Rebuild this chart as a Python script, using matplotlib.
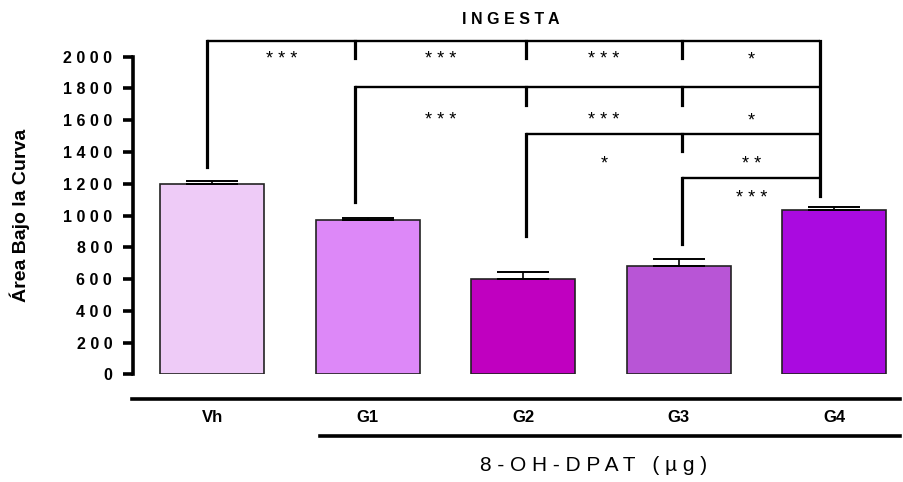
import matplotlib
matplotlib.use("Agg")
import matplotlib.pyplot as plt
import numpy as np

# data
groups = ["Vh", "G1", "G2", "G3", "G4"]
means = [1196, 972, 598, 679, 1035]
sems = [21, 13, 48, 49, 19]
colors = ["#EECBF7", "#DD88F8", "#C000C0", "#B855D6", "#AA0AE0"]
yticks = list(range(0, 2001, 200))

# significance brackets: (from group, to group, level, stars per gap)
vert_offset = [-0.03, -0.08, 0.02, 0.02, -0.09]
brackets = [
    (0, 4, 2100, ["* * *", "* * *", "* * *", "*"]),
    (1, 4, 1808, ["* * *", "* * *", "*"]),
    (2, 4, 1514, ["*", "* *"]),
    (3, 4, 1239, ["* * *"]),
]
bracket_bottom = [1308, 1084, 871, 821, 1124]
star_drop = [120, 210, 190, 130]

plt.rcParams["font.family"] = ["Liberation Sans", "DejaVu Sans"]

fig = plt.figure(figsize=(9.04, 4.82), dpi=100)
px_per_unit = 0.1588
ax = fig.add_axes([133 / 904, 107.7 / 482, (904 - 133) / 904, 2300 * px_per_unit / 482])
ax.set_xlim(-0.508, 4.447)
ax.set_ylim(0, 2300)

x = np.arange(len(groups))
ax.bar(x, means, width=0.668, color=colors, edgecolor="#222222", linewidth=1.2, zorder=2)
ax.errorbar(x, means, yerr=[np.zeros(len(sems)), sems], fmt="none", ecolor="black",
            elinewidth=1.2, capsize=18.5, capthick=1.4, zorder=3)

for s in ["top", "right", "bottom"]:
    ax.spines[s].set_visible(False)
ax.spines["left"].set_linewidth(2.6)
ax.spines["left"].set_bounds(0, 2000)
ax.set_xticks([])
ax.set_yticks(yticks)
ax.set_yticklabels([" ".join(str(v)) for v in yticks], fontweight="bold", fontsize=11.5)
ax.tick_params(axis="y", length=7.5, width=2.6, pad=7.5)

# brackets
bx = x + np.array(vert_offset)
for lvl, (g0, g1, yl, stars) in enumerate(brackets):
    ax.plot([bx[g0], bx[g1]], [yl, yl], color="black", lw=1.7, solid_capstyle="butt", clip_on=False)
    ax.plot([bx[g0], bx[g0]], [yl, bracket_bottom[g0]], color="black", lw=2.3, clip_on=False)
    for g in range(g0 + 1, g1):
        ax.plot([bx[g], bx[g]], [yl, yl - 110], color="black", lw=2.3, clip_on=False)
    for k, st in enumerate(stars):
        xm = (bx[g0 + k] + bx[g0 + k + 1]) / 2
        ax.text(xm, yl - star_drop[lvl], st, ha="center", va="center", fontsize=13)
ax.plot([bx[4], bx[4]], [brackets[0][2], bracket_bottom[4]], color="black", lw=2.3, clip_on=False)

# group axis below the bars
ax.plot([-0.514, 4.42], [-155, -155], color="black", lw=2.6, clip_on=False)
ax.plot([0.694, 4.42], [-388, -388], color="black", lw=2.6, clip_on=False)
for i, g in enumerate(groups):
    ax.text(i, -274, g, ha="center", va="center", fontsize=12, fontweight="bold")
ax.text(2.45, -572, "8 - O H - D P A T   ( µ g )", ha="center", va="center", fontsize=15)

fig.text(20 / 904, 1 - 215 / 482, "Área Bajo la Curva", rotation=90, ha="center", va="center",
         fontsize=14, fontweight="bold")
fig.text(511 / 904, 1 - 20 / 482, "I N G E S T A", ha="center", va="center",
         fontsize=11.5, fontweight="bold")

fig.savefig("out.png", dpi=100)
